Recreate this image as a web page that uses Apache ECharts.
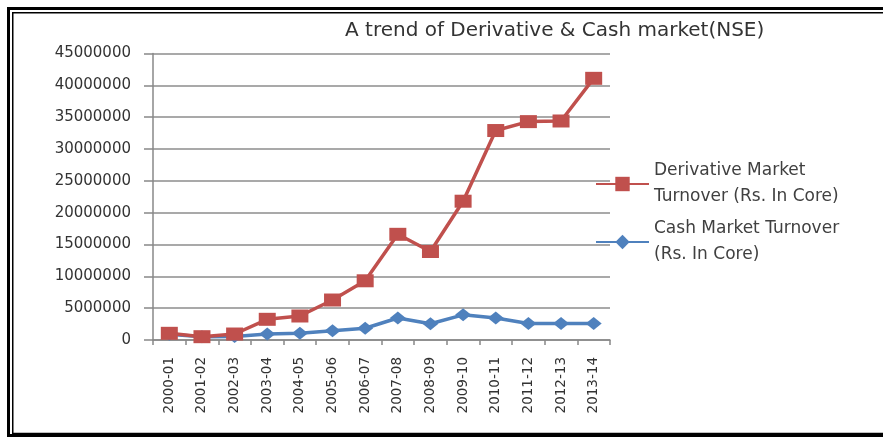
<!DOCTYPE html>
<html>
<head>
<meta charset="utf-8">
<script src="https://cdn.jsdelivr.net/npm/echarts@6/dist/echarts.min.js"></script>
<style>
html,body{margin:0;padding:0;background:#fff;overflow:hidden;}
#chart{width:883px;height:439px;}
</style>
</head>
<body>
<div id="chart"></div>
<script>
var categories = ['2000-01','2001-02','2002-03','2003-04','2004-05','2005-06','2006-07','2007-08','2008-09','2009-10','2010-11','2011-12','2012-13','2013-14'];
var derivativeTurnover = [1050000, 520000, 940000, 3250000, 3770000, 6280000, 9300000, 16600000, 13900000, 21800000, 32900000, 34300000, 34400000, 41100000];
var cashTurnover = [900000, 500000, 550000, 950000, 1050000, 1450000, 1850000, 3450000, 2550000, 3950000, 3450000, 2600000, 2600000, 2600000];
var yTicks = {min: 0, max: 45000000, interval: 5000000};
var titleText = 'A trend of Derivative & Cash market(NSE)';
var derivName = 'Derivative Market\nTurnover (Rs. In Core)';
var cashName = 'Cash Market Turnover\n(Rs. In Core)';

var chart = echarts.init(document.getElementById('chart'));
var fontFam = 'DejaVu Sans';
chart.setOption({
  animation: false,
  backgroundColor: '#ffffff',
  title: {
    text: titleText,
    left: 345,
    top: 21,
    padding: 0,
    textStyle: {fontFamily: fontFam, fontSize: 20, fontWeight: 'normal', color: '#333333'}
  },
  graphic: [
    {type: 'polyline', shape: {points: [[890, 8.5], [8.5, 8.5], [8.5, 435.5], [890, 435.5]]}, style: {fill: 'none', stroke: '#000', lineWidth: 3}, z: 100},
    {type: 'polyline', shape: {points: [[890, 12.75], [12.75, 12.75], [12.75, 433.5], [890, 433.5]]}, style: {fill: 'none', stroke: '#000', lineWidth: 1.5}, z: 100}
  ],
  legend: {
    orient: 'vertical',
    left: 595,
    top: 145,
    padding: 0,
    itemGap: -20,
    itemWidth: 53,
    itemHeight: 18,
    data: [derivName, cashName],
    lineStyle: {width: 2},
    textStyle: {fontFamily: fontFam, fontSize: 17, color: '#404040', lineHeight: 26, padding: [26, 0, 0, 0]}
  },
  grid: {left: 153, right: 273, top: 53.5, bottom: 99, containLabel: false},
  xAxis: {
    type: 'category',
    data: categories,
    boundaryGap: true,
    axisLine: {lineStyle: {color: '#888888', width: 1.5}},
    axisTick: {show: true, length: 5, interval: 0, lineStyle: {color: '#888888', width: 1.5}},
    axisLabel: {rotate: 90, margin: 17, interval: 0, fontFamily: fontFam, fontSize: 13.5, color: '#333333'},
    splitLine: {show: false}
  },
  yAxis: {
    type: 'value',
    min: yTicks.min,
    max: yTicks.max,
    interval: yTicks.interval,
    axisLine: {show: true, lineStyle: {color: '#888888', width: 1.5}},
    axisTick: {show: true, length: 9, lineStyle: {color: '#888888', width: 1.5}},
    axisLabel: {margin: 22, fontFamily: fontFam, fontSize: 15, color: '#333333', formatter: function (v) { return String(v); }},
    splitLine: {show: true, lineStyle: {color: '#8c8c8c', width: 1.5}}
  },
  series: [
    {
      name: cashName,
      type: 'line',
      data: cashTurnover,
      symbol: 'diamond',
      symbolSize: [16, 13],
      itemStyle: {color: '#4f81bd'},
      lineStyle: {color: '#4f81bd', width: 3.5},
      z: 2
    },
    {
      name: derivName,
      type: 'line',
      data: derivativeTurnover,
      symbol: 'rect',
      symbolSize: [17, 13],
      itemStyle: {color: '#c0504d'},
      lineStyle: {color: '#c0504d', width: 3.5},
      z: 3
    }
  ]
});
</script>
</body>
</html>
